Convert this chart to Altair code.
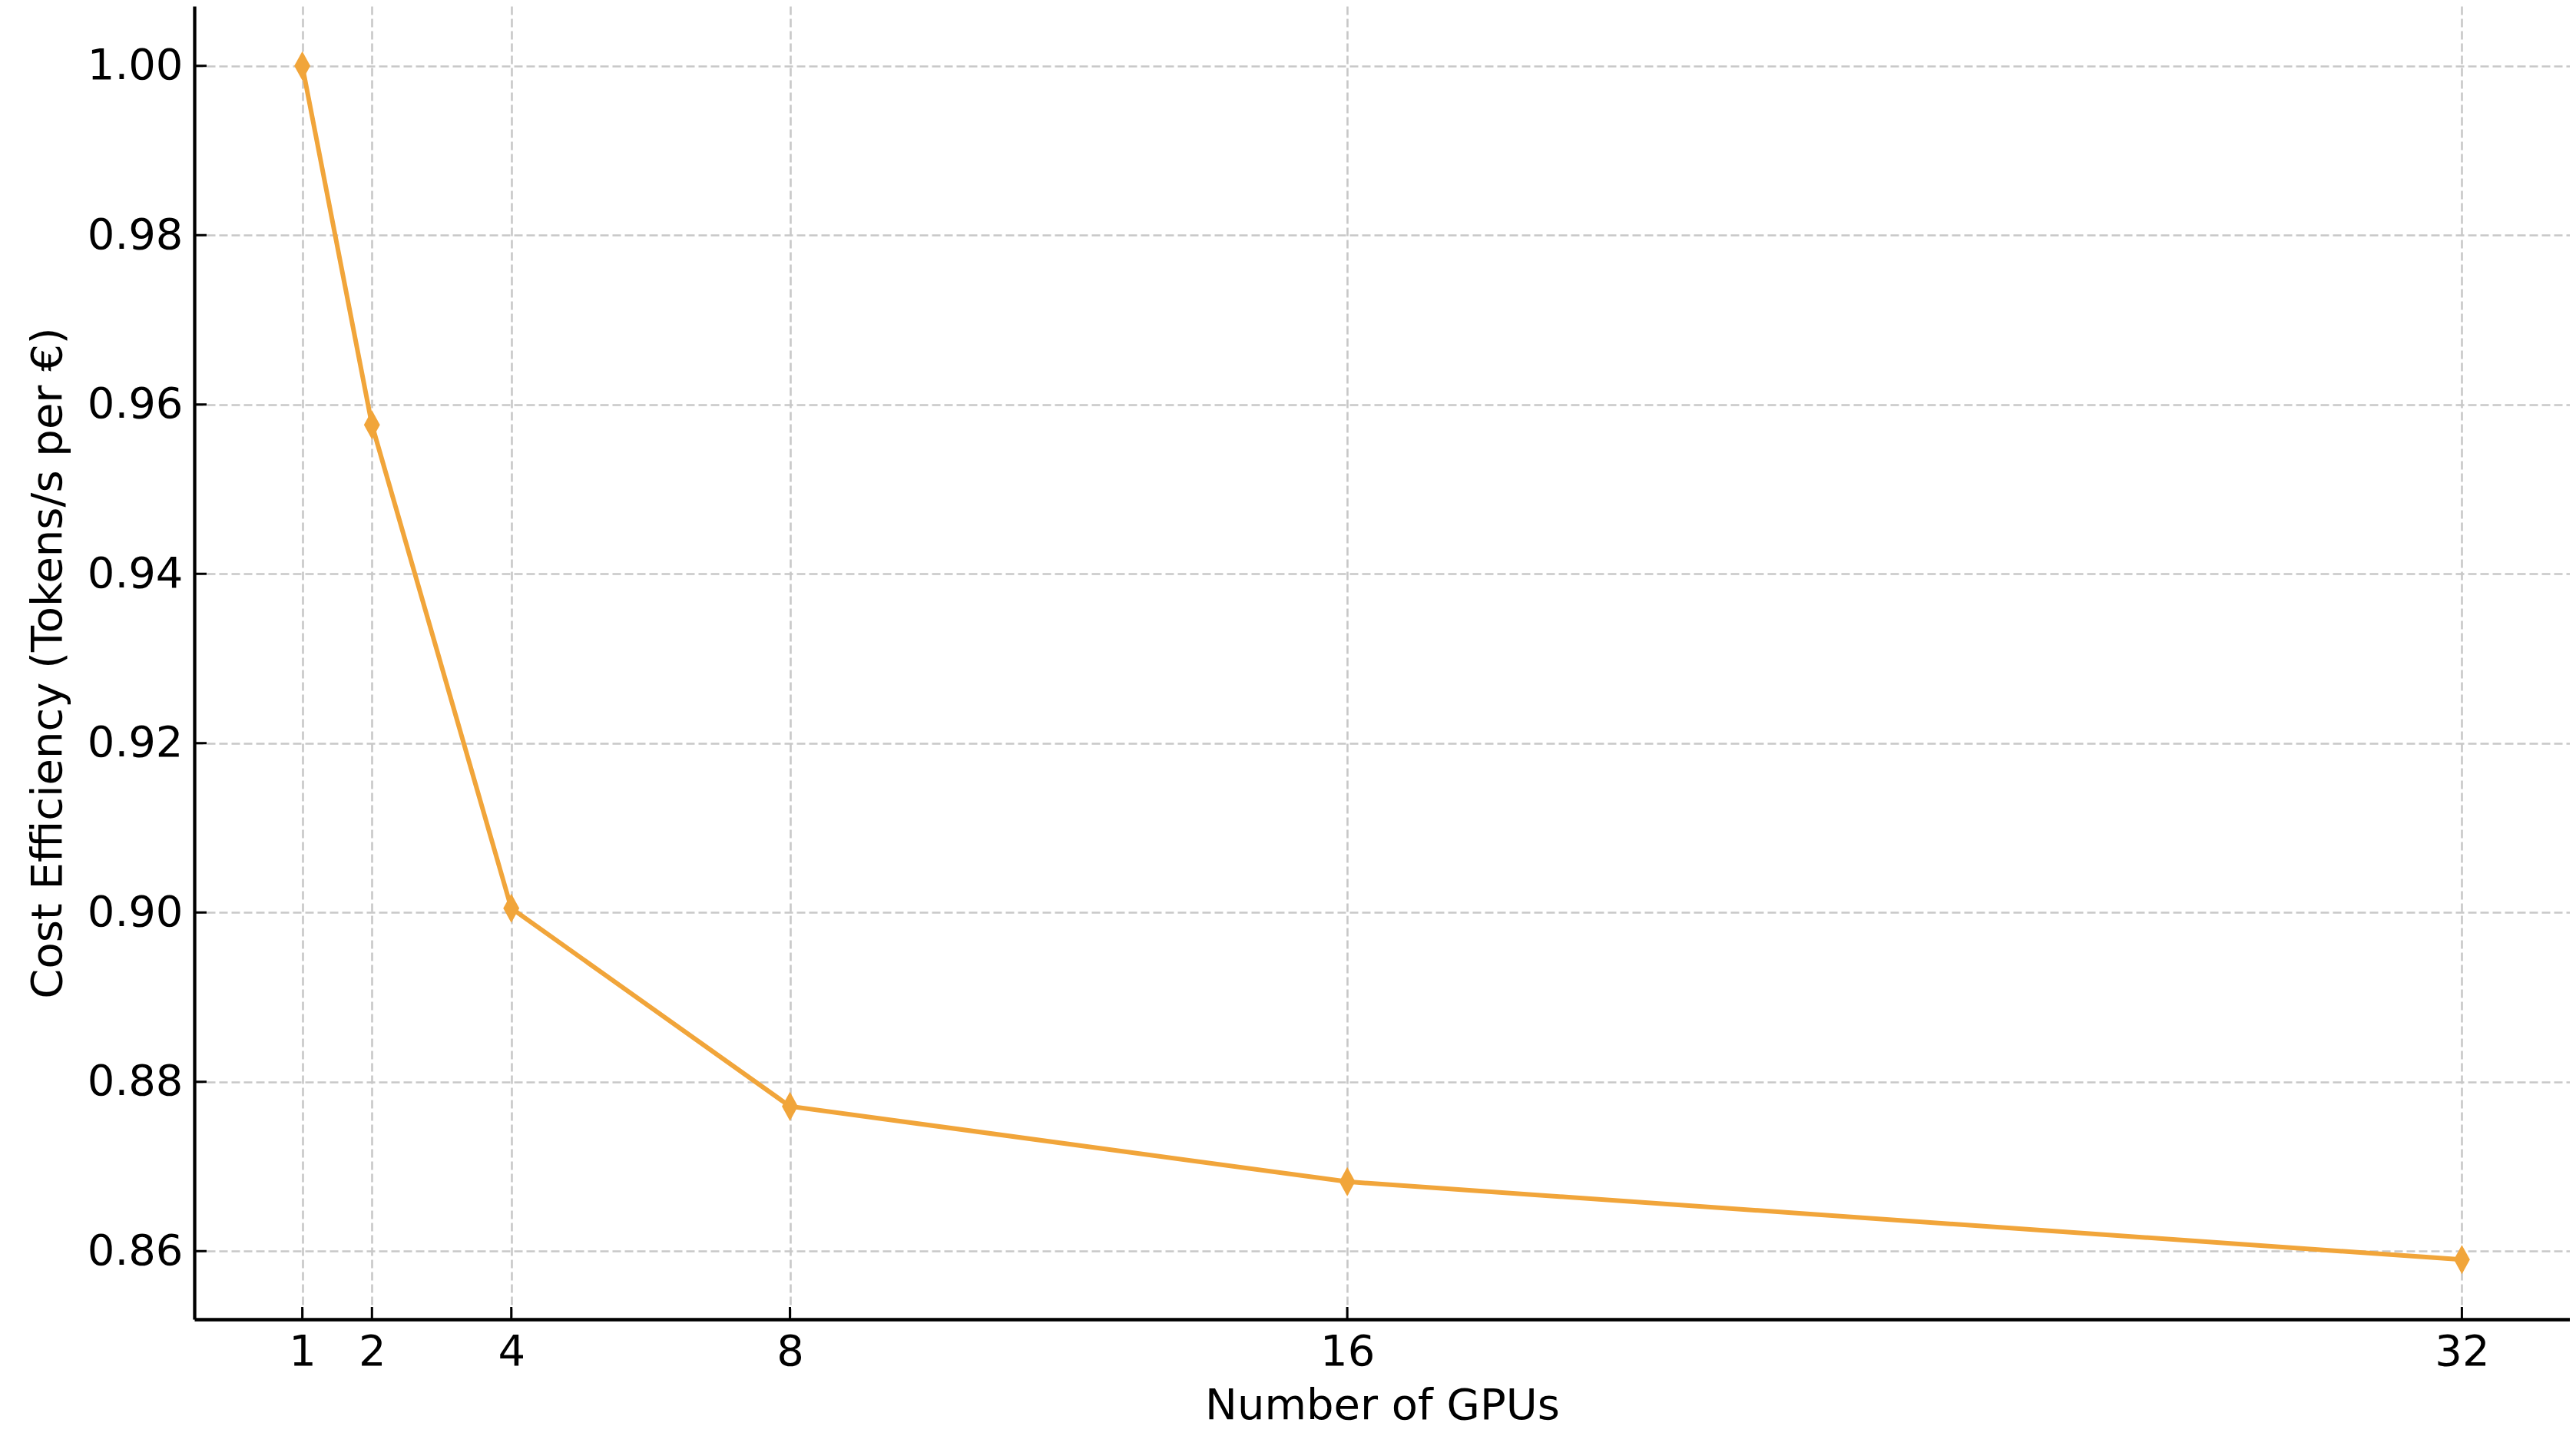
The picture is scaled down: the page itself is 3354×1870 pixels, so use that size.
import altair as alt
import pandas as pd

gpus = [1, 2, 4, 8, 16, 32]
efficiency = [1.000, 0.9576, 0.9005, 0.8771, 0.8682, 0.8590]
y_ticks = [0.86, 0.88, 0.90, 0.92, 0.94, 0.96, 0.98, 1.00]
x_ticks = [1, 2, 4, 8, 16, 32]

ORANGE = "#f1a53a"
FONT = "DejaVu Sans"
W, H = 3093, 1710

df = pd.DataFrame({"gpus": gpus, "eff": efficiency})
df_yt = pd.DataFrame({"v": y_ticks})
df_xt = pd.DataFrame({"v": x_ticks})

xscale = alt.Scale(domain=[-0.55, 33.55], nice=False, zero=False)
yscale = alt.Scale(domain=[0.85195, 1.00705], nice=False, zero=False)

xaxis = alt.Axis(
    title="Number of GPUs",
    values=x_ticks,
    format="d",
    ticks=False,
    labelPadding=15,
    titlePadding=15,
    grid=True,
    gridColor="#c8c8c8",
    gridDash=[11, 5],
    gridWidth=2.6,
    domainColor="black",
    domainWidth=4.3,
    labelFlush=False,
)
yaxis = alt.Axis(
    title="Cost Efficiency (Tokens/s per €)",
    values=y_ticks,
    format=".2f",
    ticks=False,
    labelPadding=15,
    titlePadding=22,
    grid=True,
    gridColor="#c8c8c8",
    gridDash=[11, 5],
    gridWidth=2.6,
    domainColor="black",
    domainWidth=4.3,
    labelFlush=False,
)

base = alt.Chart(df)

line = base.mark_line(color=ORANGE, strokeWidth=6).encode(
    x=alt.X("gpus:Q", scale=xscale, axis=xaxis),
    y=alt.Y("eff:Q", scale=yscale, axis=yaxis),
)

points = base.mark_point(
    shape="M0,-1L0.55,0L0,1L-0.55,0Z",
    filled=True,
    color=ORANGE,
    opacity=1,
    size=1444,
).encode(
    x=alt.X("gpus:Q", scale=xscale),
    y=alt.Y("eff:Q", scale=yscale),
)

yticks = alt.Chart(df_yt).mark_rule(color="black", strokeWidth=3).encode(
    y=alt.Y("v:Q", scale=yscale),
    x=alt.value(0),
    x2=alt.value(16),
)

xticks = alt.Chart(df_xt).mark_rule(color="black", strokeWidth=3).encode(
    x=alt.X("v:Q", scale=xscale),
    y=alt.value(H),
    y2=alt.value(H - 16),
)

chart = (
    alt.layer(line, points, yticks, xticks)
    .properties(
        width=W,
        height=H,
        autosize=alt.AutoSizeParams(type="none"),
        padding={"left": 245, "top": 0, "right": 0, "bottom": 144},
        background="white",
    )
    .configure_view(stroke=None)
    .configure_axis(
        labelFont=FONT,
        labelFontSize=56,
        labelColor="black",
        titleFont=FONT,
        titleFontSize=56,
        titleFontWeight="normal",
        titleColor="black",
    )
)

chart.save("out.html", embed_options={"renderer": "svg", "actions": False})
